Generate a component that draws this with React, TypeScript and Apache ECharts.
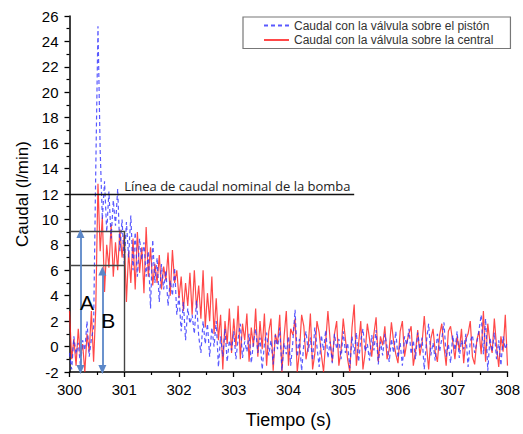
import React, { useEffect, useRef } from "react";
import * as echarts from "echarts";

// Time sampling of both series (s)
const T_START = 300;
const T_STEP = 0.04;

// Caudal con la válvula sobre el pistón (l/min)
const pistonFlow = [
  -0.5, -1.8, 0.8, -0.6, 0.3, -1.5, 0.5, -0.3, 2.0, -0.8,
  0.6, 1.5, 14.0, 25.2, 15.5, 10.0, 13.0, 9.0, 12.2, 8.5,
  11.5, 9.5, 12.4, 7.5, 10.0, 6.5, 9.8, 7.0, 10.3, 6.0,
  9.0, 5.5, 8.5, 6.8, 8.2, 5.5, 7.5, 3.0, 8.4, 5.0,
  7.0, 3.5, 6.5, 4.5, 6.0, 3.2, 5.2, 4.0, 6.2, 2.5,
  4.0, 1.2, 3.5, 0.5, 3.0, 1.8, 2.5, 1.0, 3.6, 0.8,
  -0.5, 2.0, 0.2, 1.8, -0.8, 1.5, 0.0, 2.0, -1.6, 0.8,
  -0.8, 1.4, -1.2, 0.5, -0.3, 1.2, -1.0, 0.6, 1.8, -0.9,
  0.4, -0.4, 1.0, -1.3, 0.3, 1.4, -0.5, 0.7, -1.8, 0.2,
  1.1, -0.7, 0.5, -1.4, 0.9, -0.2, 1.5, -1.9, 0.3, -0.6,
  0.8, -1.5, 0.4, 2.9, -0.8, 0.6, -1.9, 0.2, 1.2, -0.4,
  0.7, -1.1, 1.5, 0.0, -1.6, 0.9, -0.3, 1.3, -0.9, 0.4,
  -1.3, 1.0, -0.2, 0.6, -1.0, 1.2, -0.5, 0.3, -1.7, 0.8,
  -0.6, 1.1, -1.2, 0.5, 1.4, -0.4, 0.2, -1.1, 0.9, -0.3,
  1.3, -1.4, 0.4, -0.7, 1.0, 0.0, -1.2, 0.6, -0.5, 1.2,
  -0.9, 0.3, -1.5, 0.8, 0.1, 1.4, -0.6, 0.5, -1.0, 1.1,
  -0.2, 0.7, -1.8, 0.4, 1.8, -0.7, 0.3, -1.1, 1.0, -0.4,
  0.6, 1.9, -0.8, 0.2, -1.3, 0.9, -0.3, 1.2, -0.9, 0.5,
  -0.2, 1.0, -1.6, 0.4, 0.9, -0.5, 0.3, 1.3, 2.5, -0.6,
  2.2, -1.9, 0.7, -0.4, 1.1, -1.0, 0.5, -1.5, 0.8, -0.2,
  0.4,
];

// Caudal con la válvula sobre la central (l/min)
const centralFlow = [
  2.8, -1.0, 0.6, -1.5, 1.4, -0.8, 0.2, -2.0, 1.0, -0.4,
  2.8, -1.2, 3.0, 12.8, 7.5, 10.2, 4.3, 8.0, 6.2, 9.6,
  5.5, 8.2, 6.0, 9.2, 7.0, 8.8, 3.5, 7.5, 5.0, 8.5,
  4.5, 9.0, 5.8, 7.8, 4.2, 9.4, 5.5, 7.8, 4.8, 6.5,
  5.0, 7.2, 4.5, 6.3, 5.2, 7.4, 4.0, 7.6, 5.0, 6.0,
  3.8, 5.5, 2.8, 5.0, 3.2, 5.8, 2.5, 6.0, 3.0, 4.8,
  2.2, 6.0, 1.5, 4.2, 2.0, 5.5, 1.0, 3.8, 0.5, 2.5,
  -1.8, 2.0, 0.2, 3.0, -0.5, 2.2, 0.0, 3.2, -1.0, 1.8,
  0.5, 2.6, -1.2, 1.5, 0.0, 3.0, -0.8, 2.0, -0.2, 2.6,
  -1.5, 1.2, 2.2, -1.9, 1.0, 0.2, 2.5, -2.0, 0.8, 2.8,
  -1.5, 1.4, 0.9, 2.2, -2.0, -0.4, 2.5, 1.6, -1.0, 0.0,
  2.6, -1.8, -0.6, 2.0, 1.1, -0.6, -2.0, 0.4, 2.8, 0.5,
  -1.2, 1.0, 2.0, -1.5, -0.3, 2.2, 0.6, -1.0, -2.0, 1.5,
  3.3, -1.5, 0.2, 2.0, -1.8, -0.5, 1.8, 0.6, -0.8, 1.0,
  2.3, -1.2, 0.8, 0.1, 1.6, -1.0, -0.2, 1.9, 0.4, -0.6,
  -1.3, 1.2, 2.0, -0.8, 0.3, 1.0, 1.6, -1.5, -0.4, 1.3,
  -0.7, 0.3, 2.4, 0.1, -1.8, 0.6, 1.4, -0.4, -1.2, 0.9,
  1.8, 0.0, -1.5, 1.2, 1.6, 0.4, -1.0, 0.8, -0.3, 1.4,
  -1.3, 0.6, 1.0, 2.0, -0.8, -1.4, 0.5, 1.2, -0.6, 2.8,
  -1.2, 1.8, 0.3, -0.5, 2.2, 0.0, -1.6, 0.8, -0.4, 2.5,
  -1.5,
];

const SERIES_NAMES = [
  "Caudal con la válvula sobre el pistón",
  "Caudal con la válvula sobre la central",
];

// Annotation values
const NOMINAL_FLOW = 12;
const NOMINAL_LINE_END = 305.2;
const NOMINAL_LABEL = "Línea de caudal nominal de la bomba";
const BOX_X = [300, 301];
const LEVEL_A = 9.1;
const LEVEL_B = 6.4;
const ARROW_A_X = 300.2;
const ARROW_B_X = 300.6;
const ARROW_A_TOP = 8.9;
const ARROW_B_TOP = 5.95;
const ARROW_BOTTOM = -1.8;

const X_MIN = 300;
const X_MAX = 308;
const Y_MIN = -2;
const Y_MAX = 26;

const toPairs = (vals: number[]) =>
  vals.map((v, i) => [Number((T_START + i * T_STEP).toFixed(2)), v]);

export default function App() {
  const ref = useRef<HTMLDivElement>(null);
  useEffect(() => {
    if (!ref.current) return;
    const chart = echarts.init(ref.current, null, { renderer: "svg" });
    const font = "Liberation Sans, Arial, sans-serif";
    const axisLine = { show: true, onZero: false, lineStyle: { color: "#000", width: 1.5 } };
    const boxLine = { color: "#444", width: 1.4, type: "solid" };
    const arrowLine = { color: "#5b87c8", width: 1.8, type: "solid" };
    chart.setOption({
      animation: false,
      backgroundColor: "#fff",
      grid: { left: 69.5, right: 13, top: 16, bottom: 61, containLabel: false },
      legend: {
        orient: "vertical",
        left: 243,
        top: 17,
        padding: [2, 17, 2, 20],
        itemGap: 1.5,
        itemWidth: 25,
        itemHeight: 12,
        borderColor: "#777",
        borderWidth: 1.2,
        backgroundColor: "#fff",
        itemStyle: { opacity: 0 },
        data: SERIES_NAMES,
        textStyle: { fontSize: 12, fontFamily: font, color: "#333", lineHeight: 13 },
      },
      xAxis: {
        type: "value",
        min: X_MIN,
        max: X_MAX,
        interval: 1,
        name: "Tiempo (s)",
        nameLocation: "middle",
        nameGap: 39,
        nameTextStyle: { fontSize: 18, fontFamily: font, color: "#000" },
        axisLine,
        axisTick: { show: true, inside: false, length: 5, lineStyle: { color: "#000", width: 1.3 } },
        minorTick: { show: true, splitNumber: 2, length: 3, lineStyle: { color: "#000", width: 1.2 } },
        splitLine: { show: false },
        axisLabel: { fontSize: 15, fontFamily: font, color: "#000", margin: 10 },
      },
      yAxis: {
        type: "value",
        min: Y_MIN,
        max: Y_MAX,
        interval: 2,
        name: "Caudal (l/min)",
        nameLocation: "middle",
        nameGap: 38,
        nameRotate: 90,
        nameTextStyle: { fontSize: 17, fontFamily: font, color: "#000" },
        axisLine,
        axisTick: { show: true, inside: false, length: 5, lineStyle: { color: "#000", width: 1.3 } },
        minorTick: { show: true, splitNumber: 2, length: 3, lineStyle: { color: "#000", width: 1.2 } },
        splitLine: { show: false },
        axisLabel: { fontSize: 15, fontFamily: font, color: "#000", margin: 11 },
      },
      series: [
        {
          name: SERIES_NAMES[0],
          type: "line",
          data: toPairs(pistonFlow),
          showSymbol: false,
          symbol: "none",
          z: 3,
          lineStyle: { color: "#3030ff", width: 1.2, type: [4, 3], opacity: 0.8 },
          itemStyle: { color: "#3030ff" },
        },
        {
          name: SERIES_NAMES[1],
          type: "line",
          data: toPairs(centralFlow),
          showSymbol: false,
          symbol: "none",
          z: 2,
          lineStyle: { color: "#ff1a1a", width: 1.2, opacity: 0.8 },
          itemStyle: { color: "#ff1a1a" },
        },
        {
          name: "annotations",
          type: "line",
          data: [],
          silent: true,
          z: 4,
          markLine: {
            silent: true,
            animation: false,
            symbol: "none",
            label: { show: false },
            data: [
              [
                { coord: [X_MIN, NOMINAL_FLOW], lineStyle: { color: "#111", width: 1.4, type: "solid" } },
                { coord: [NOMINAL_LINE_END, NOMINAL_FLOW] },
              ],
              [
                { coord: [BOX_X[0], LEVEL_A], lineStyle: boxLine },
                { coord: [BOX_X[1], LEVEL_A] },
              ],
              [
                { coord: [BOX_X[0], LEVEL_B], lineStyle: boxLine },
                { coord: [BOX_X[1], LEVEL_B] },
              ],
              [
                { coord: [BOX_X[1], LEVEL_A], lineStyle: boxLine },
                { coord: [BOX_X[1], Y_MIN] },
              ],
              [
                { coord: [ARROW_A_X, ARROW_A_TOP], lineStyle: arrowLine, symbol: "triangle", symbolSize: [8, 9] },
                { coord: [ARROW_A_X, ARROW_BOTTOM], symbol: "triangle", symbolSize: [8, 9] },
              ],
              [
                { coord: [ARROW_B_X, ARROW_B_TOP], lineStyle: arrowLine, symbol: "triangle", symbolSize: [8, 9] },
                { coord: [ARROW_B_X, ARROW_BOTTOM], symbol: "triangle", symbolSize: [8, 9] },
              ],
            ],
          },
          markPoint: {
            silent: true,
            animation: false,
            symbol: "circle",
            symbolSize: 1,
            itemStyle: { color: "rgba(0,0,0,0)" },
            data: [
              {
                coord: [300.32, 3.5],
                label: { show: true, formatter: "A", fontSize: 21, fontFamily: font, color: "#000" },
              },
              {
                coord: [300.71, 2.05],
                label: { show: true, formatter: "B", fontSize: 21, fontFamily: font, color: "#000" },
              },
              {
                coord: [300.99, NOMINAL_FLOW],
                label: {
                  show: true,
                  formatter: NOMINAL_LABEL,
                  position: "right",
                  distance: 0,
                  offset: [0, -8],
                  fontSize: 13,
                  fontFamily: "Open Sans, Noto Sans, sans-serif",
                  color: "#222",
                },
              },
            ],
          },
        },
      ],
    });
    return () => chart.dispose();
  }, []);
  return (
    <div
      ref={ref}
      style={{ position: "fixed", left: 0, top: 0, width: 523, height: 434 }}
    />
  );
}
